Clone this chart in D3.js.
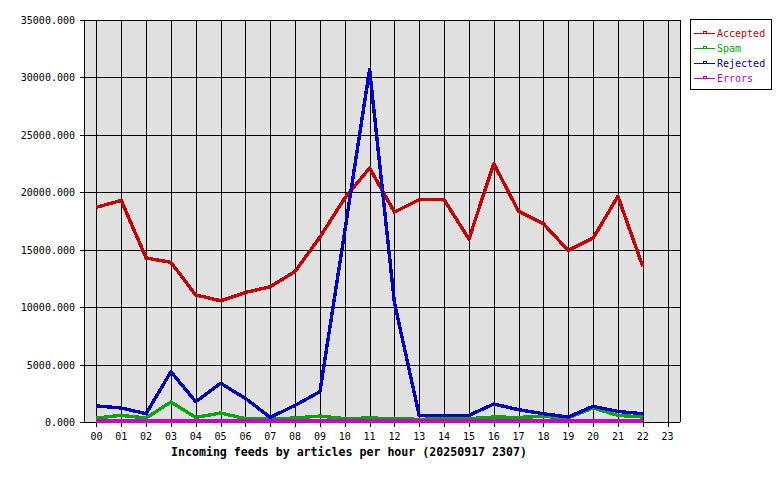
<!DOCTYPE html>
<html>
<head>
<meta charset="utf-8">
<script src="https://cdn.jsdelivr.net/npm/d3@7"></script>
<style>
body { margin: 0; background: #fff; }
text { font-family: "DejaVu Sans Mono", monospace; }
</style>
</head>
<body>
<svg width="780" height="480"></svg>
<script>
const hours = ["00","01","02","03","04","05","06","07","08","09","10","11",
               "12","13","14","15","16","17","18","19","20","21","22","23"];
const accepted = [18700, 19290, 14280, 13900, 11060, 10560, 11280, 11780, 13110, 16100, 19500, 22110,
                  18280, 19350, 19350, 15930, 22490, 18340, 17260, 14940, 16020, 19640, 13550];
const spam     = [350, 575, 350, 1740, 400, 780, 290, 260, 350, 520, 290, 350,
                  290, 230, 290, 290, 435, 400, 490, 350, 1220, 575, 435];
const rejected = [1400, 1220, 720, 4380, 1770, 3370, 2060, 400, 1450, 2640, 16600, 30700,
                  10400, 550, 575, 575, 1570, 1070, 720, 435, 1360, 920, 720];
const errors   = [80, 80, 80, 80, 80, 80, 80, 80, 80, 80, 80, 80,
                  80, 80, 80, 80, 80, 80, 80, 80, 80, 80, 80];
const seriesNames = ["Accepted", "Spam", "Rejected", "Errors"];
const seriesColors = ["#cc0000", "#00aa00", "#0000cc", "#cc00cc"];
const yTicks = [0, 5000, 10000, 15000, 20000, 25000, 30000, 35000];
const title = "Incoming feeds by articles per hour (20250917 2307)";

const svg = d3.select("svg");
const plot = {left: 84, right: 680, top: 20, bottom: 422};

const x = d3.scaleLinear().domain([-0.5, 23.5]).range([plot.left, plot.right]);
const y = d3.scaleLinear().domain([0, 35000]).range([plot.bottom, plot.top]);

// background
svg.append("rect")
  .attr("x", plot.left).attr("y", plot.top)
  .attr("width", plot.right - plot.left).attr("height", plot.bottom - plot.top)
  .attr("fill", "#e0e0e0");

// grid
const grid = svg.append("g").attr("shape-rendering", "crispEdges").attr("stroke", "#000");
grid.selectAll(".vg").data(hours).enter().append("line")
  .attr("x1", (d, i) => Math.round(x(i)) + 0.5).attr("x2", (d, i) => Math.round(x(i)) + 0.5)
  .attr("y1", plot.top).attr("y2", plot.bottom + 5);
grid.selectAll(".hg").data(yTicks).enter().append("line")
  .attr("x1", plot.left - 4).attr("x2", plot.right)
  .attr("y1", d => Math.round(y(d)) + 0.5).attr("y2", d => Math.round(y(d)) + 0.5);
grid.append("line").attr("x1", plot.left + 0.5).attr("x2", plot.left + 0.5)
  .attr("y1", plot.top).attr("y2", plot.bottom);
grid.append("line").attr("x1", plot.right + 0.5).attr("x2", plot.right + 0.5)
  .attr("y1", plot.top).attr("y2", plot.bottom);

// y labels
svg.selectAll(".yl").data(yTicks).enter().append("text")
  .attr("x", 75).attr("y", d => y(d) + 4)
  .attr("text-anchor", "end").attr("font-size", "10px")
  .text(d => d3.format(".3f")(d));

// x labels
svg.selectAll(".xl").data(hours).enter().append("text")
  .attr("x", (d, i) => x(i)).attr("y", 440)
  .attr("text-anchor", "middle").attr("font-size", "10px")
  .text(d => d);

svg.append("text")
  .attr("x", 349).attr("y", 456)
  .attr("text-anchor", "middle").attr("font-size", "11.6px").attr("font-weight", "bold")
  .text(title);

// series
const allSeries = [accepted, spam, rejected, errors];
const line = d3.line().x((d, i) => x(i)).y(d => y(d));
allSeries.forEach((s, k) => {
  svg.append("path")
    .attr("d", line(s))
    .attr("fill", "none")
    .attr("stroke", seriesColors[k])
    .attr("stroke-width", 3.4)
    .attr("stroke-linejoin", "round")
    .attr("shape-rendering", "crispEdges");
});

// legend
const lg = svg.append("g").attr("shape-rendering", "crispEdges");
lg.append("rect").attr("x", 690.5).attr("y", 19.5).attr("width", 81).attr("height", 70)
  .attr("fill", "#fff").attr("stroke", "#000");
seriesNames.forEach((n, k) => {
  const ly = 33 + k * 15;
  lg.append("rect").attr("x", 694).attr("y", ly).attr("width", 21).attr("height", 1)
    .attr("fill", seriesColors[k]);
  lg.append("rect").attr("x", 703).attr("y", ly - 2).attr("width", 3).attr("height", 2)
    .attr("fill", "none").attr("stroke", seriesColors[k]).attr("stroke-width", 1);
  svg.append("text").attr("x", 717).attr("y", ly + 4)
    .attr("font-size", "10px").attr("fill", seriesColors[k]).text(n);
});
</script>
</body>
</html>
